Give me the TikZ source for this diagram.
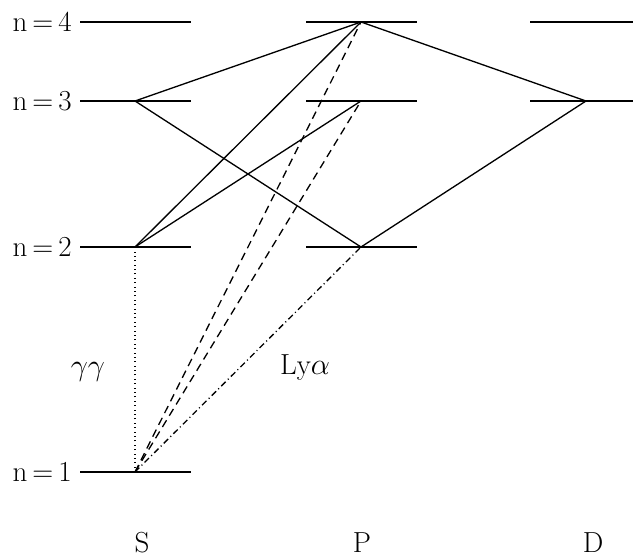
\documentclass[tikz,border=0pt]{standalone}
\usepackage{tikz}
\usetikzlibrary{calc}

\tikzset{level/.style={line width=1.1pt},
  trans/.style={line width=0.75pt},
  lbl/.style={font=\fontsize{16.5}{19}\selectfont,inner sep=0pt}}

\begin{document}
\begin{tikzpicture}[x=0.02cm,y=-0.02cm]
\useasboundingbox (0,0) rectangle (633,557);
% level positions
\coordinate (s4) at (135,22);\coordinate (s3) at (135,101);
\coordinate (s2) at (135,247);\coordinate (s1) at (135,472);
\coordinate (p4) at (361,22);\coordinate (p3) at (361,101);\coordinate (p2) at (361,247);
\coordinate (d4) at (586,22);\coordinate (d3) at (586,101);

% levels
\foreach \c in {s4,s3,s2,s1,p4,p3,p2}
  \draw[level] ($(\c)+(-55,0)$) -- ($(\c)+(56,0)$);
\foreach \c in {d4,d3}
  \draw[level] ($(\c)+(-56,0)$) -- ($(\c)+(47,0)$);

\node[lbl,anchor=east] (n4) at (72,22) {n$\,$=$\,$4};
\node[lbl,anchor=east] (n3) at (72,101) {n$\,$=$\,$3};
\node[lbl,anchor=east] (n2) at (72,247) {n$\,$=$\,$2};
\node[lbl,anchor=east] (n1) at (72,472) {n$\,$=$\,$1};

% transitions
\draw[trans] (s3) -- (p4);\draw[trans] (s3) -- (p2);
\draw[trans] (s2) -- (p4);\draw[trans] (s2) -- (p3);
\draw[trans] (p4) -- (d3);\draw[trans] (p2) -- (d3);
\draw[trans,dash pattern=on 0.5pt off 2pt] (s1) -- (s2);
\draw[trans,dash pattern=on 4.5pt off 3pt] (s1) -- (p4);
\draw[trans,dash pattern=on 4.5pt off 3pt] (s1) -- (p3);
\draw[trans,dash pattern=on 3.5pt off 1.8pt on 0.6pt off 1.8pt] (s1) -- (p2);

\node[lbl] (gg) at (88,372) {$\gamma\gamma$};
\node[lbl] (lya) at (305,368) {Ly$\alpha$};
\node[lbl] (S) at (142,543) {S};
\node[lbl] (P) at (362,543) {P};
\node[lbl] (D) at (593,543) {D};
\end{tikzpicture}
\end{document}
